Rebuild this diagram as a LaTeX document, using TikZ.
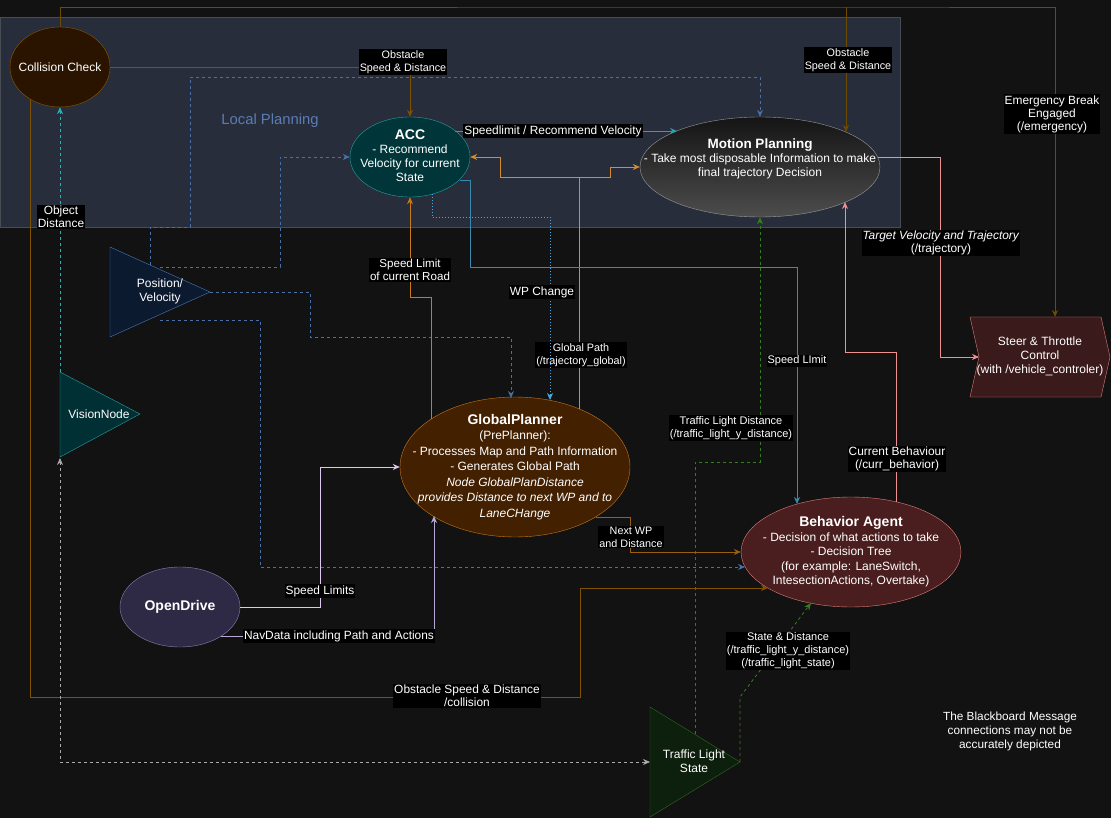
\documentclass[tikz,border=0pt]{standalone}
\usepackage{fontspec}
\setmainfont{Liberation Sans}
\usetikzlibrary{arrows.meta,shapes.geometric}
\newcommand\ttlf{\fontsize{14}{16}\selectfont\bfseries}
\definecolor{bg}{HTML}{121212}
\definecolor{grpfill}{HTML}{272D3A}
\definecolor{grpline}{HTML}{474C55}
\definecolor{ccfill}{HTML}{2A1400}
\definecolor{ccline}{HTML}{8B5A00}
\definecolor{accfill}{HTML}{00363A}
\definecolor{accline}{HTML}{2A9DA0}
\definecolor{gpfill}{HTML}{432000}
\definecolor{gpline}{HTML}{C8781A}
\definecolor{odfill}{HTML}{2E2A45}
\definecolor{odline}{HTML}{8A80B0}
\definecolor{bafill}{HTML}{4A1E1E}
\definecolor{baline}{HTML}{E07C7C}
\definecolor{stfill}{HTML}{3A1A1A}
\definecolor{posfill}{HTML}{0C1A30}
\definecolor{posline}{HTML}{4A78B8}
\definecolor{visfill}{HTML}{003033}
\definecolor{tlfill}{HTML}{0D1F0D}
\definecolor{tlline}{HTML}{2F6A20}
\definecolor{brown}{HTML}{6E4B00}
\definecolor{ccedge}{HTML}{7E5200}
\definecolor{gpedge}{HTML}{D98A2B}
\definecolor{sledge}{HTML}{C87A1A}
\definecolor{wpedge}{HTML}{9A6010}
\definecolor{tealedge}{HTML}{2AA0B0}
\definecolor{bluedge}{HTML}{3A8AB0}
\definecolor{dotedge}{HTML}{4AA8E0}
\definecolor{posedge}{HTML}{4A70A8}
\definecolor{visedge}{HTML}{2AB0B8}
\definecolor{grayedge}{HTML}{AAAAAA}
\definecolor{greenedge}{HTML}{3A7A25}
\definecolor{pinkedge}{HTML}{F09090}
\definecolor{lavA}{HTML}{DCC8F0}
\definecolor{lavB}{HTML}{B8A8D8}
\definecolor{lptext}{HTML}{5A7DB5}
\begin{document}
\begin{tikzpicture}[x=1pt,y=-1pt,
  ell/.style={ellipse, draw, inner sep=0pt},
  lbl/.style={fill=black, text=white, inner sep=1pt, align=center, font=\fontsize{11.9}{13}\selectfont},
  lblsmall/.style={font=\fontsize{10.8}{13}\selectfont},
  lblmid/.style={font=\fontsize{11}{13}\selectfont},
  txt/.style={text=white, align=center, font=\fontsize{12}{14}\selectfont},
  conn/.style={line width=0.8pt, -{Stealth[length=7pt,width=6pt]}},
  dsh/.style={dash pattern=on 3pt off 3pt},
  dtt/.style={dash pattern=on 1pt off 2pt}
]
\fill[bg] (0,0) rectangle (1111,818);
\useasboundingbox (0,0) rectangle (1111,818);

% group
\draw[grpline, fill=grpfill] (0,17) rectangle (900,227);
\node[text=lptext, font=\fontsize{14.8}{16}\selectfont] (lp) at (270,121) {Local Planning};

% triangles
\draw[posline, fill=posfill] (110,247) -- (110,337) -- (210,292) -- cycle;
\node[txt] (pos) at (160,291) {Position/\\Velocity};
\draw[accline, fill=visfill] (60,372) -- (60,457) -- (140,414) -- cycle;
\node[txt] (vision) at (99,414) {VisionNode};
\draw[tlline, fill=tlfill] (650,707) -- (650,817) -- (740,762) -- cycle;
\node[txt] (tl) at (694,761) {Traffic Light\\State};

% steer
\draw[baline, fill=stfill] (970,317) -- (1101,317) -- (1110,357) -- (1101,397) -- (970,397) -- (979,357) -- cycle;
\node[txt] (steer) at (1040,356) {Steer \& Throttle\\Control\\(with /vehicle\_controler)};

% ellipse nodes (shape) + their texts
\node[ell, draw=ccline, fill=ccfill, minimum width=100pt, minimum height=80pt] (cc) at (60,67) {};
\node[txt] (cct) at (cc) {Collision Check};
\node[ell, draw=accline, fill=accfill, minimum width=120pt, minimum height=80pt] (acc) at (410,157) {};
\node[txt] (acct) at (410,156) {{\ttlf ACC}\\- Recommend\\Velocity for current\\State};
\node[ell, draw=gray!80, top color=black!92, bottom color=black!70, minimum width=240pt, minimum height=100pt] (mp) at (760,167) {};
\node[txt] (mpt) at (760,159) {{\fontsize{13.5}{16}\selectfont\bfseries Motion Planning}\\- Take most disposable Information to make\\final trajectory Decision};
\node[ell, draw=gpline, fill=gpfill, minimum width=230pt, minimum height=140pt] (gp) at (515,467) {};
\node[txt, font=\fontsize{12}{15.5}\selectfont] (gpt) at (515,467) {{\ttlf GlobalPlanner}\\(PrePlanner):\\- Processes Map and Path Information\\- Generates Global Path\\\textit{Node GlobalPlanDistance}\\\textit{provides Distance to next WP and to}\\\textit{LaneCHange}};
\node[ell, draw=odline, fill=odfill, minimum width=120pt, minimum height=80pt] (od) at (180,607) {};
\node[txt] (odt) at (od) {\ttlf OpenDrive};
\node[ell, draw=baline, fill=bafill, minimum width=220pt, minimum height=110pt] (ba) at (851,552) {};
\node[txt, font=\fontsize{12}{14.5}\selectfont] (bat) at (851,552) {{\ttlf Behavior Agent}\\- Decision of what actions to take\\- Decision Tree\\(for example: LaneSwitch,\\IntesectionActions, Overtake)};

% named connector points
\coordinate (steertop) at (1055,317);
\coordinate (steerin) at (979,357);
\coordinate (mpout) at (878,157);

% ---- connectors ----
% collision check top -> steer / motion planning
\draw[conn, brown] (cc.north) |- (846,7) -| (steertop);
\draw[conn, brown] (846,7) -- (846,132);
\node[lbl, lblsmall] (l1) at (848,60) {Obstacle\\Speed \& Distance};
\node[lbl] (l2) at (1052,114) {Emergency Break\\Engaged\\(/emergency)};

% collision check -> ACC
\draw[conn, ccedge] (cc.east) -| (acc.north);
\node[lbl, lblsmall] (l3) at (403,62) {Obstacle\\Speed \& Distance};

% collision check -> behavior agent
\draw[conn, ccedge] (30,99) -- (30,697) -- (580,697) -- (580,588) -- (768,588);
\node[lbl] (l4) at (467,696) {Obstacle Speed \& Distance\\/collision};

% vision -> collision check
\draw[conn, visedge, dsh] (60,372) -- (cc.south);
\node[lbl] (l5) at (61,217) {Object\\Distance};

% vision <-> traffic light
\draw[line width=0.8pt, grayedge, dsh, {Stealth[length=7pt,width=6pt]}-{Stealth[length=7pt,width=6pt]}] (60,458) -- (60,762) -- (650,762);

% position connectors
\draw[conn, posedge, dsh] (150,265) -- (150,227) -- (190,227) -- (190,77) -| (mp.north);
\draw[conn, posedge, dsh] (160,267) -- (280,267) |- (acc.west);
\draw[conn, posedge, dsh] (210,292) -- (310,292) -- (310,337) -- (511,337) -- (511,398);
\draw[conn, posedge, dsh] (160,320) -- (260,320) -- (260,567) -- (745,567);

% ACC -> MP
\draw[conn, tealedge] (455,131) -- (677,131);
\node[lbl] (l6) at (553,131) {Speedlimit / Recommend Velocity};

% GP -> ACC & MP
\draw[line width=0.8pt, gpedge] (579,409) -- (579,177);
\draw[conn, gpedge] (579,177) -- (500,177) |- (acc.east);
\draw[conn, gpedge] (579,177) -- (610,177) |- (mp.west);
\node[lbl, lblsmall] (l7) at (581,355) {Global Path\\(/trajectory\_global)};

% GP -> ACC speed limit
\draw[conn, sledge] (431,419) -- (431,297) -- (410,297) -- (acc.south);
\node[lbl, font=\fontsize{11.6}{13}\selectfont] (l8) at (410,270) {Speed Limit\\of current Road};

% WP change
\draw[conn, dotedge, dtt] (432,194) -- (432,217) -- (550,217) -- (550,400);
\node[lbl] (l9) at (542,292) {WP Change};

% ACC -> BA speed limit
\draw[conn, bluedge] (460,180) -- (470,180) -- (470,267) -- (797,267) -- (797,504);
\node[lbl, lblmid] (l10) at (797,361) {Speed LImit};

% TL -> MP
\draw[conn, greenedge, dsh] (695,734) -- (695,462) -- (760,462) -- (mp.south);
\node[lbl, lblmid] (l11) at (731,428) {Traffic Light Distance\\(/traffic\_light\_y\_distance)};

% TL -> BA
\draw[conn, greenedge, dsh] (740,762) -- (740,697) -- (811,603);
\node[lbl, lblmid] (l12) at (788,651) {State \& Distance\\(/traffic\_light\_y\_distance)\\(/traffic\_light\_state)};

% GP -> BA
\draw[conn, wpedge] (596,517) -- (630,517) |- (ba.west);
\node[lbl, lblsmall] (l13) at (631,537) {Next WP\\and Distance};

% OD -> GP
\draw[conn, lavA] (od.east) -- (320,607) |- (gp.west);
\node[lbl] (l14) at (320,591) {Speed Limits};
\draw[conn, lavB] (221,636) -- (434,636) -- (434,516);
\node[lbl] (l15) at (339,636) {NavData including Path and Actions};

% BA -> MP
\draw[conn, pinkedge] (896,502) -- (896,352) -- (845,352) -- (845,202);
\node[lbl] (l16) at (897,459) {Current Behaviour\\(/curr\_behavior)};

% MP -> steer
\draw[conn, pinkedge] (mpout) -- (940,157) |- (steerin);
\node[lbl] (l17) at (941,243) {\textit{Target Velocity and Trajectory}\\(/trajectory)};

% note
\node[txt, font=\fontsize{11.8}{14}\selectfont] (note) at (1010,731) {The Blackboard Message\\connections may not be\\accurately depicted};
\end{tikzpicture}
\end{document}
